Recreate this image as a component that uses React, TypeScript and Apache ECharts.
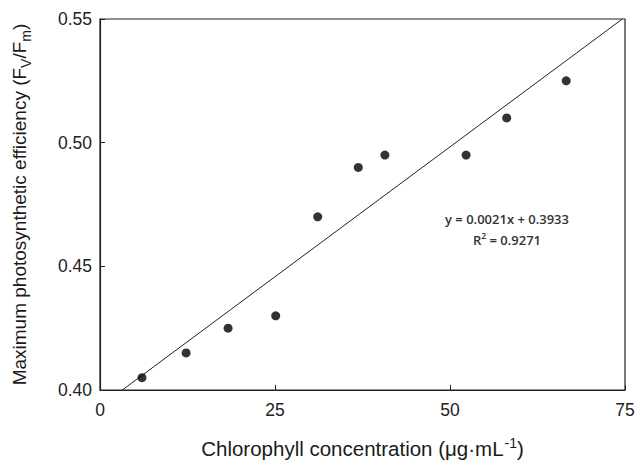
import React, { useEffect, useRef } from "react";
import * as echarts from "echarts";

const chlorophyll = [6.0, 12.3, 18.3, 25.1, 31.1, 36.9, 40.7, 52.3, 58.1, 66.6];
const efficiency = [0.405, 0.415, 0.425, 0.43, 0.47, 0.49, 0.495, 0.495, 0.51, 0.525];
const slope = 0.0021;
const intercept = 0.3933;
const rSquared = 0.9271;
const xTicks = [0, 25, 50, 75];
const yTicks = [0.4, 0.45, 0.5, 0.55];

export default function App() {
  const ref = useRef<HTMLDivElement>(null);
  useEffect(() => {
    if (!ref.current) return;
    const chart = echarts.init(ref.current, null, { renderer: "svg" });
    const yMin = yTicks[0];
    const yMax = yTicks[yTicks.length - 1];
    const fitStart = (yMin - intercept) / slope;
    const fitEnd = (yMax - intercept) / slope;
    const font = "Liberation Sans, Arial, sans-serif";
    const eqFont = "Open Sans, sans-serif";
    chart.setOption({
      animation: false,
      backgroundColor: "#ffffff",
      grid: { left: 100, right: 19, top: 19, bottom: 75, containLabel: false, outerBoundsMode: "none" },
      xAxis: {
        type: "value",
        min: xTicks[0],
        max: xTicks[xTicks.length - 1],
        interval: 25,
        name: "{n|Chlorophyll concentration (μg·mL}{sup|-1}{n|)}",
        nameLocation: "middle",
        nameGap: 45,
        nameTextStyle: {
          fontSize: 20.5,
          fontFamily: font,
          rich: {
            n: { fontFamily: font, fontSize: 20.5, color: "#1a1a1a", lineHeight: 24, verticalAlign: "bottom" },
            sup: { fontFamily: font, fontSize: 14, color: "#1a1a1a", lineHeight: 24, verticalAlign: "bottom", padding: [0, 0, 9, 1] },
          },
        },
        axisLine: { show: true, onZero: false, lineStyle: { color: "#222", width: 1.2 } },
        axisTick: { show: true, inside: true, length: 5, lineStyle: { color: "#222" } },
        axisLabel: { fontFamily: font, fontSize: 17.5, color: "#222", margin: 11 },
        splitLine: { show: false },
      },
      yAxis: {
        type: "value",
        min: yMin,
        max: yMax,
        interval: 0.05,
        name: "{n|Maximum photosynthetic efficiency (F}{sub|V}{n|/F}{sub|m}{n|)}",
        nameLocation: "middle",
        nameRotate: 90,
        nameGap: 66,
        nameTextStyle: {
          fontSize: 19,
          fontFamily: font,
          rich: {
            n: { fontFamily: font, fontSize: 19, color: "#1a1a1a", lineHeight: 24, verticalAlign: "top" },
            sub: { fontFamily: font, fontSize: 14, color: "#1a1a1a", lineHeight: 24, verticalAlign: "top", padding: [9, 0, 0, 0] },
          },
        },
        axisLine: { show: true, onZero: false, lineStyle: { color: "#222", width: 1.2 } },
        axisTick: { show: true, inside: true, length: 5, lineStyle: { color: "#222" } },
        axisLabel: {
          fontFamily: font,
          fontSize: 17.5,
          color: "#222",
          margin: 8,
          formatter: (v: number) => v.toFixed(2),
        },
        splitLine: { show: false },
      },
      graphic: [
        {
          type: "rect",
          shape: { x: 100, y: 19, width: 525, height: 371 },
          style: { fill: "none", stroke: "#222", lineWidth: 1.2 },
          silent: true,
        },
        {
          type: "text",
          x: 507,
          y: 212,
          style: {
            text: `y = ${slope.toFixed(4)}x + ${intercept.toFixed(4)}`,
            fontFamily: eqFont,
            fontSize: 13,
            fontWeight: 600,
            fill: "#333",
            align: "center",
            verticalAlign: "top",
          },
        },
        {
          type: "text",
          x: 507,
          y: 229,
          style: {
            text: `{n|R}{s|2}{n| = ${rSquared.toFixed(4)}}`,
            rich: {
              n: { fontFamily: eqFont, fontSize: 13, fontWeight: 600, fill: "#333", lineHeight: 17, verticalAlign: "bottom" },
              s: { fontFamily: eqFont, fontSize: 8.5, fontWeight: 600, fill: "#333", lineHeight: 17, verticalAlign: "bottom", padding: [0, 0, 6, 0] },
            },
            align: "center",
            verticalAlign: "top",
          },
        },
      ],
      series: [
        {
          type: "line",
          data: [
            [fitStart, slope * fitStart + intercept],
            [fitEnd, slope * fitEnd + intercept],
          ],
          symbol: "none",
          lineStyle: { color: "#222", width: 1 },
          z: 1,
          silent: true,
        },
        {
          type: "scatter",
          data: chlorophyll.map((x, i) => [x, efficiency[i]]),
          symbol: "circle",
          symbolSize: 9,
          itemStyle: { color: "#000" },
          z: 3,
        },
      ],
    });
    return () => chart.dispose();
  }, []);
  return (
    <div
      ref={ref}
      style={{ position: "fixed", left: 0, top: 0, width: 644, height: 465 }}
    />
  );
}
